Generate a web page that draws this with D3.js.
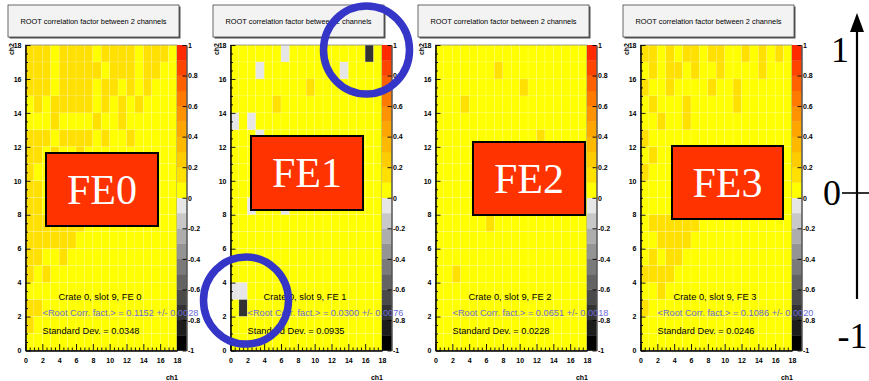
<!DOCTYPE html>
<html>
<head>
<meta charset="utf-8">
<script src="https://cdn.jsdelivr.net/npm/d3@7"></script>
<style>
  body { margin: 0; background: #fff; }
  svg { display: block; }
</style>
</head>
<body>
<svg id="chart" width="869" height="381"></svg>
<script>
// ---- data ---------------------------------------------------------------
const boardNames = ["FE0", "FE1", "FE2", "FE3"];
const meanCorr   = ["0.1152", "0.0300", "0.0651", "0.1086"];
const meanErr    = ["0.0028", "0.0076", "0.0018", "0.0020"];
const stdDev     = ["0.0348", "0.0935", "0.0228", "0.0246"];
const axisTicks  = [0, 2, 4, 6, 8, 10, 12, 14, 16, 18];
const colorTicks = [1, 0.8, 0.6, 0.4, 0.2, 0, -0.2, -0.4, -0.6, -0.8, -1];
const scaleMarks = [1, 0, -1];

// correlation value of each cell class
const cellValue = { ".": 0.05, "o": 0.15, "g": -0.05, "d": -0.75 };

// rows from ch2 = 17 (top) down to ch2 = 0, one char per ch1 = 0..17
const fe0Rows = [
  "ooo.oooo.oooo.ooo.",
  "ooo.ooooo.ooo.oo..",
  "ooo.oooo.oo.o.o...",
  ".o.ooooo.o.o.o....",
  "...o....o..o......",
  "ooo.oooo.o..o.....",
  "oo.o..o...........",
  "o.................",
  "oo................",
  "oo.o..............",
  "ooooooo...........",
  "oooooo............",
  "oo..o.............",
  "o.o...............",
  "..................",
  "oo................",
  "o.................",
  ".................."
];
const fe1Rows = [
  "......g.........d.",
  "...g.........g....",
  ".........o........",
  ".....o............",
  "g.g...............",
  "...g..............",
  "..................",
  "..................",
  "..................",
  "..g...g...........",
  "..................",
  "..................",
  "..................",
  "..................",
  "gg................",
  ".d................",
  "..................",
  ".................."
];
const fe2Rows = [
  "..................",
  ".......o..........",
  "..........o.......",
  "...o..............",
  "..................",
  "............o.....",
  "..................",
  "..................",
  "..................",
  "..................",
  "......o...........",
  "..................",
  "..................",
  "..o...............",
  "..................",
  "..................",
  "..................",
  ".................."
];
const fe3Rows = [
  "oo.o.oo.oo..o.o.o.",
  ".o.oo.o..o....o...",
  "o..o....o..o......",
  ".o...o.....o......",
  "..o..o............",
  "o.................",
  ".o................",
  "o.................",
  "..................",
  "..................",
  ".oooooo...........",
  "..oooo............",
  ".o.oo.............",
  "oooo..............",
  "..o...............",
  "o.................",
  "..................",
  ".................."
];
const panelRows = [fe0Rows, fe1Rows, fe2Rows, fe3Rows];

// 20-step palette, -1 .. 1
const palette = [
  "#000000", "#1c1c1c", "#333333", "#4a4a4a", "#636363",
  "#7a7a7a", "#949494", "#adadad", "#c8c8c8", "#e6e6e6",
  "#ffff00", "#ffe000", "#ffcc00", "#ffb800", "#ffa500",
  "#ff9200", "#ff7a00", "#ff6000", "#ff4400", "#ff2a00"
];

// ---- layout ---------------------------------------------------------------
const LEFT0 = 25.5, STEP = 205, PW = 151.5, TOP = 45, BOTTOM = 350.5, BAR = 9.5;
const labelBoxes = [
  [46, 153, 112, 73], [251, 136, 112, 74], [473, 142, 112, 73], [672, 146, 111, 73]
];
const rings = [[366.5, 50, 43, 44], [246, 300.5, 42.5, 43.5]];

const svg = d3.select("#chart");
const color = d3.scaleQuantize().domain([-1, 1]).range(palette);
const sans = "'Liberation Sans', Arial, Helvetica, sans-serif";
const serif = "'Liberation Serif', 'Times New Roman', Times, serif";
const fmt = d => (d === 0 ? "0" : String(+d.toFixed(1)));

panelRows.forEach((rows, i) => {
  const left = LEFT0 + STEP * i;
  const x = d3.scaleLinear().domain([0, 18]).range([left, left + PW]);
  const y = d3.scaleLinear().domain([0, 18]).range([BOTTOM, TOP]);
  const yc = d3.scaleLinear().domain([-1, 1]).range([BOTTOM, TOP]);
  const g = svg.append("g");

  // title pave
  const tx = left - 17.5, tw = 171, ty = 5, th = 32;
  g.append("rect").attr("x", tx + 1.5).attr("y", ty + 1.5).attr("width", tw).attr("height", th)
    .attr("fill", "#555");
  g.append("rect").attr("x", tx).attr("y", ty).attr("width", tw).attr("height", th)
    .attr("fill", "#f3f3f3").attr("stroke", "#444").attr("stroke-width", 0.8);
  g.append("text").attr("x", tx + tw / 2).attr("y", ty + th / 2 + 2.5)
    .attr("text-anchor", "middle").attr("font-family", sans).attr("font-size", 7)
    .attr("textLength", 146).attr("lengthAdjust", "spacingAndGlyphs")
    .text("ROOT correlation factor between 2 channels");

  // cells
  const cells = [];
  rows.forEach((row, r) => {
    [...row].forEach((c, ch1) => cells.push({ ch1, ch2: 17 - r, v: cellValue[c] }));
  });
  g.append("g").selectAll("rect").data(cells).join("rect")
    .attr("x", d => x(d.ch1)).attr("y", d => y(d.ch2 + 1))
    .attr("width", x(1) - x(0)).attr("height", y(0) - y(1))
    .attr("fill", d => color(d.v))
    .attr("stroke", "#fff").attr("stroke-opacity", 0.28).attr("stroke-width", 0.5);

  // frame
  g.append("rect").attr("x", left).attr("y", TOP).attr("width", PW).attr("height", BOTTOM - TOP)
    .attr("fill", "none").attr("stroke", "#888").attr("stroke-width", 0.8);

  // colour bar
  const levels = d3.range(20).map(k => -1 + k * 0.1);
  g.append("g").selectAll("rect").data(levels).join("rect")
    .attr("x", left + PW).attr("y", d => yc(d + 0.1)).attr("width", BAR)
    .attr("height", yc(0) - yc(0.1) + 0.3)
    .attr("fill", d => color(d + 0.05));

  const styleAxis = sel => {
    sel.selectAll("text").attr("font-family", sans).attr("font-size", 7)
      .attr("font-weight", "bold").attr("fill", "#000");
    sel.selectAll("line").attr("stroke", "#000").attr("stroke-width", 0.9);
    sel.select(".domain").attr("stroke", "#000").attr("stroke-width", 1);
  };
  const minor = d3.range(0, 18.01, 0.5).filter(v => v % 2 !== 0);

  // y axis (ch2)
  g.append("g").attr("transform", `translate(${left},0)`)
    .call(d3.axisLeft(y).tickValues(minor).tickSize(-2.5).tickSizeOuter(0).tickFormat(""))
    .call(styleAxis);
  g.append("g").attr("transform", `translate(${left},0)`)
    .call(d3.axisLeft(y).tickValues(axisTicks).tickSize(-5).tickSizeOuter(0).tickPadding(4))
    .call(styleAxis);

  // x axis (ch1)
  g.append("g").attr("transform", `translate(0,${BOTTOM})`)
    .call(d3.axisBottom(x).tickValues(minor).tickSize(-3).tickSizeOuter(0).tickFormat(""))
    .call(styleAxis);
  g.append("g").attr("transform", `translate(0,${BOTTOM})`)
    .call(d3.axisBottom(x).tickValues(axisTicks).tickSize(-6.5).tickSizeOuter(0).tickPadding(8))
    .call(styleAxis);

  // colour-bar axis
  g.append("g").attr("transform", `translate(${left + PW + BAR},0)`)
    .call(d3.axisRight(yc).tickValues(colorTicks).tickSize(-4).tickSizeOuter(0).tickPadding(1.5).tickFormat(fmt))
    .call(styleAxis);

  // axis titles
  g.append("text").attr("x", left + PW + 1).attr("y", 380)
    .attr("text-anchor", "end").attr("font-family", sans).attr("font-size", 7)
    .attr("font-weight", "bold").text("ch1");
  g.append("text").attr("transform", `translate(${left - 11.5},${TOP - 2}) rotate(-90)`)
    .attr("text-anchor", "end").attr("font-family", sans).attr("font-size", 7)
    .attr("font-weight", "bold").text("ch2");

  // statistics
  g.append("text").attr("x", left + 74.5).attr("y", 300)
    .attr("text-anchor", "middle").attr("font-family", sans).attr("font-size", 8.5)
    .attr("textLength", 83).attr("lengthAdjust", "spacingAndGlyphs")
    .text(`Crate 0, slot 9, FE ${i}`);
  g.append("text").attr("x", left + 17).attr("y", 316)
    .attr("font-family", sans).attr("font-size", 8.5).attr("fill", "#6b6bd8")
    .attr("textLength", 156).attr("lengthAdjust", "spacingAndGlyphs")
    .text(`<Root Corr. fact.> = ${meanCorr[i]} +/- ${meanErr[i]}`);
  g.append("text").attr("x", left + 17).attr("y", 333.5)
    .attr("font-family", sans).attr("font-size", 8.5)
    .attr("textLength", 97).attr("lengthAdjust", "spacingAndGlyphs")
    .text(`Standard Dev. = ${stdDev[i]}`);

  // board label
  const [bx, by, bw, bh] = labelBoxes[i];
  g.append("rect").attr("x", bx).attr("y", by).attr("width", bw).attr("height", bh)
    .attr("fill", "#ff3300").attr("stroke", "#000").attr("stroke-width", 2);
  g.append("text").attr("x", bx + bw / 2).attr("y", by + bh / 2 + 14)
    .attr("text-anchor", "middle").attr("font-family", serif).attr("font-size", 42)
    .attr("fill", "#fff").text(boardNames[i]);
});

// highlight rings
svg.append("g").selectAll("ellipse").data(rings).join("ellipse")
  .attr("cx", d => d[0]).attr("cy", d => d[1]).attr("rx", d => d[2]).attr("ry", d => d[3])
  .attr("fill", "none").attr("stroke", "#3535c8").attr("stroke-width", 7.5);

// correlation scale arrow on the right
const ax = 857;
const ys = d3.scaleLinear().domain([-1, 1]).range([336, 50]);
svg.append("line").attr("x1", ax).attr("x2", ax).attr("y1", 28).attr("y2", 299)
  .attr("stroke", "#000").attr("stroke-width", 2.2);
svg.append("path").attr("d", `M${ax},13 L${ax - 7},32 L${ax + 7},32 Z`).attr("fill", "#000");
svg.append("line").attr("x1", 842).attr("x2", 869).attr("y1", ys(0)).attr("y2", ys(0))
  .attr("stroke", "#000").attr("stroke-width", 1.6);
const markX = { "1": 840, "0": 832, "-1": 867.5 };
const markAnchor = { "1": "middle", "0": "middle", "-1": "end" };
svg.append("g").selectAll("text").data(scaleMarks).join("text")
  .attr("x", d => markX[d]).attr("y", d => ys(d) + 12)
  .attr("text-anchor", d => markAnchor[d]).attr("font-family", serif).attr("font-size", 36)
  .attr("fill", "#000").text(d => String(d));
</script>
</body>
</html>
